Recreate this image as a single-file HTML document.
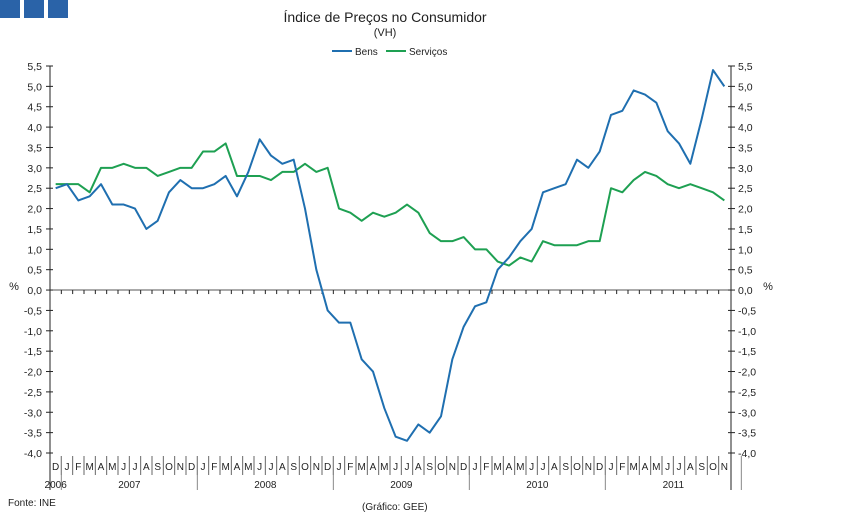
<!DOCTYPE html>
<html><head><meta charset="utf-8"><style>
body{margin:0;background:#fff;width:851px;height:526px;overflow:hidden;font-family:"Liberation Sans",sans-serif}
</style></head><body>
<svg id="c" width="851" height="526" xmlns="http://www.w3.org/2000/svg" font-family="Liberation Sans, sans-serif">
<rect x="0" y="0" width="20" height="18" fill="#2a63a8"/>
<rect x="24" y="0" width="20" height="18" fill="#2a63a8"/>
<rect x="48" y="0" width="20" height="18" fill="#2a63a8"/>
<text x="385" y="22" font-size="14" text-anchor="middle" fill="#222">Índice de Preços no Consumidor</text>
<text x="385" y="36" font-size="11" text-anchor="middle" fill="#222">(VH)</text>
<g>
<line x1="332" y1="51" x2="352" y2="51" stroke="#1f6fb0" stroke-width="2"/>
<text x="355" y="55" font-size="10" fill="#222">Bens</text>
<line x1="386" y1="51" x2="406" y2="51" stroke="#1ea052" stroke-width="2"/>
<text x="409" y="55" font-size="10" fill="#222">Serviços</text>
</g>
<text x="14" y="290" font-size="11" text-anchor="middle" fill="#222">%</text>
<text x="768" y="290" font-size="11" text-anchor="middle" fill="#222">%</text>
<text x="8" y="506" font-size="10" fill="#222">Fonte: INE</text>
<text x="362" y="510" font-size="10" fill="#222">(Gráfico: GEE)</text>
<g id="g"></g>
</svg>
<script>
const months=["D","J","F","M","A","M","J","J","A","S","O","N","D","J","F","M","A","M","J","J","A","S","O","N","D","J","F","M","A","M","J","J","A","S","O","N","D","J","F","M","A","M","J","J","A","S","O","N","D","J","F","M","A","M","J","J","A","S","O","N"];
const years=["2006","2007","2008","2009","2010","2011"];
const bens=[2.5,2.6,2.2,2.3,2.6,2.1,2.1,2.0,1.5,1.7,2.4,2.7,2.5,2.5,2.6,2.8,2.3,2.9,3.7,3.3,3.1,3.2,2.0,0.5,-0.5,-0.8,-0.8,-1.7,-2.0,-2.9,-3.6,-3.7,-3.3,-3.5,-3.1,-1.7,-0.9,-0.4,-0.3,0.5,0.8,1.2,1.5,2.4,2.5,2.6,3.2,3.0,3.4,4.3,4.4,4.9,4.8,4.6,3.9,3.6,3.1,4.2,5.4,5.0];
const servicos=[2.6,2.6,2.6,2.4,3.0,3.0,3.1,3.0,3.0,2.8,2.9,3.0,3.0,3.4,3.4,3.6,2.8,2.8,2.8,2.7,2.9,2.9,3.1,2.9,3.0,2.0,1.9,1.7,1.9,1.8,1.9,2.1,1.9,1.4,1.2,1.2,1.3,1.0,1.0,0.7,0.6,0.8,0.7,1.2,1.1,1.1,1.1,1.2,1.2,2.5,2.4,2.7,2.9,2.8,2.6,2.5,2.6,2.5,2.4,2.2];
const yTicks=[5.5,5,4.5,4,3.5,3,2.5,2,1.5,1,0.5,0,-0.5,-1,-1.5,-2,-2.5,-3,-3.5,-4];
const X0=50,X1=730,Y0=66,Y1=453,YMAX=5.5,YMIN=-4;
const n=months.length,cw=(X1-X0)/n;
const xs=i=>X0+cw*(i+0.5);
const ys=v=>Y0+(YMAX-v)/(YMAX-YMIN)*(Y1-Y0);
const g=document.getElementById('g');const NS="http://www.w3.org/2000/svg";
function mk(t,a){const e=document.createElementNS(NS,t);for(const k in a)e.setAttribute(k,a[k]);g.appendChild(e);return e;}
let e;
e=mk('line',{x1:X0,y1:Y0,x2:X0,y2:490,stroke:'#222','stroke-width':1});


e=mk('line',{x1:X1+1,y1:Y0,x2:X1+1,y2:490,stroke:'#222','stroke-width':1});


e=mk('line',{x1:X0,y1:ys(0),x2:X1,y2:ys(0),stroke:'#555','stroke-width':1});


yTicks.forEach(v=>{const y=ys(v);
mk('line',{x1:X0-4,y1:y,x2:X0+3,y2:y,stroke:'#222'});
mk('line',{x1:X1-2,y1:y,x2:X1+5,y2:y,stroke:'#222'});
const lbl=v.toFixed(1).replace('.',',');
e=mk('text',{x:X0-8,y:y+4,'font-size':10.5,'text-anchor':'end',fill:'#222'});e.textContent=lbl;


e=mk('text',{x:X1+8,y:y+4,'font-size':10.5,fill:'#222'});e.textContent=lbl;


});
for(let i=0;i<n;i++){const x=X0+cw*i;
mk('line',{x1:x,y1:ys(0),x2:x,y2:ys(0)+4,stroke:'#222'});
if(i>0)mk('line',{x1:x,y1:Y1+3,x2:x,y2:Y1+22,stroke:'#666'});
e=mk('text',{x:xs(i),y:Y1+17,'font-size':10,'text-anchor':'middle',fill:'#222'});e.textContent=months[i];


}
years.forEach((yr,k)=>{let cx;
if(k===0){cx=xs(0);}else{const s=1+(k-1)*12;cx=X0+cw*(s+6);
mk('line',{x1:X0+cw*(s+12),y1:Y1+3,x2:X0+cw*(s+12),y2:490,stroke:'#888'});}
e=mk('text',{x:cx,y:488,'font-size':10,'text-anchor':'middle',fill:'#222'});e.textContent=yr;


});
mk('line',{x1:X0+cw,y1:Y1+3,x2:X0+cw,y2:490,stroke:'#888'});
function line(arr,col,name){e=mk('polyline',{points:arr.map((v,i)=>xs(i)+','+ys(v)).join(' '),fill:'none',stroke:col,'stroke-width':2,'stroke-linejoin':'round'});

}
line(servicos,'#1ea052','series-servicos');
line(bens,'#1f6fb0','series-bens');
</script>
</body></html>
